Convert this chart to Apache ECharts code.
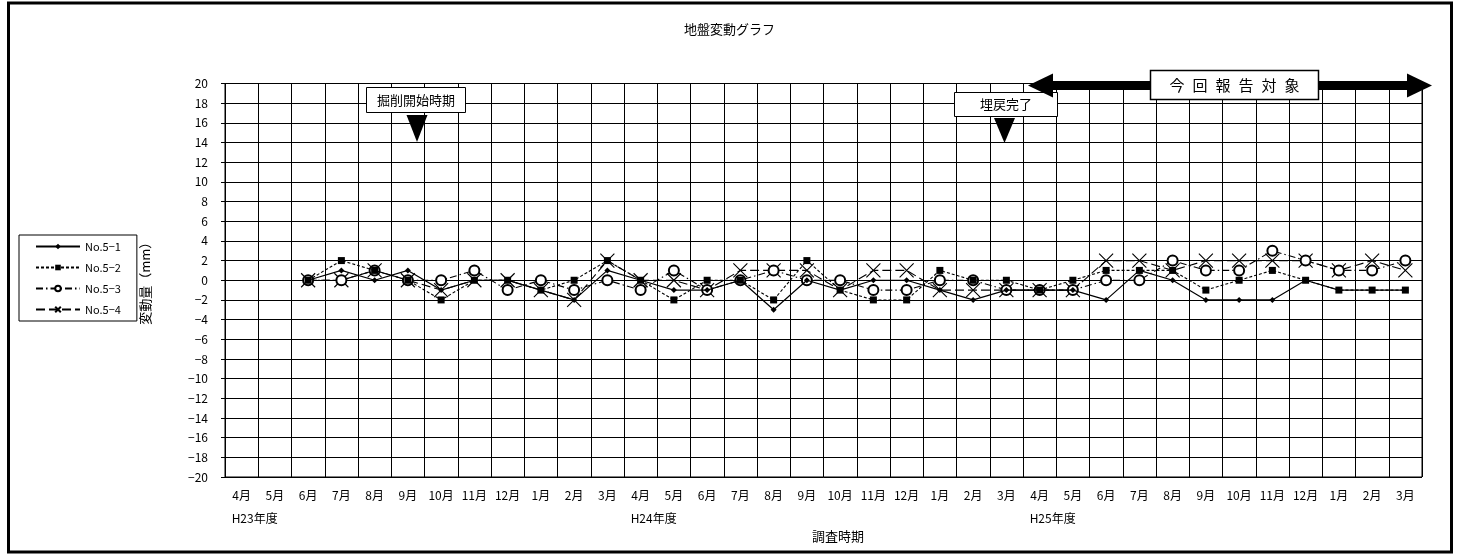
<!DOCTYPE html>
<html>
<head>
<meta charset="utf-8">
<script src="https://cdn.jsdelivr.net/npm/echarts@6/dist/echarts.min.js"></script>
<style>
html,body{margin:0;padding:0;background:#fff;}
#main{width:1459px;height:558px;}
</style>
</head>
<body>
<div id="main"></div>
<script>
var months = ['4月','5月','6月','7月','8月','9月','10月','11月','12月','1月','2月','3月',
              '4月','5月','6月','7月','8月','9月','10月','11月','12月','1月','2月','3月',
              '4月','5月','6月','7月','8月','9月','10月','11月','12月','1月','2月','3月'];
var fiscalYears = [{idx:0,label:'H23年度'},{idx:12,label:'H24年度'},{idx:24,label:'H25年度'}];
var yTicks = {min:-20, max:20, interval:2};
var seriesNames = ['No.5−1','No.5−2','No.5−3','No.5−4'];

var no51 = [null,null,0,1,0,1,-1,0,0,-1,-2,1,0,-1,-1,0,-3,0,-1,0,0,-1,-2,-1,-1,-1,-2,1,0,-2,-2,-2,0,-1,-1,-1];
var no52 = [null,null,0,2,1,0,-2,0,0,-1,0,2,0,-2,0,0,-2,2,-1,-2,-2,1,0,0,-1,0,1,1,1,-1,0,1,0,-1,-1,-1];
var no53 = [null,null,0,0,1,0,0,1,-1,0,-1,0,-1,1,-1,0,1,0,0,-1,-1,0,0,-1,-1,-1,0,0,2,1,1,3,2,1,1,2];
var no54 = [null,null,0,0,1,0,-1,0,0,-1,-2,2,0,0,-1,1,1,1,-1,1,1,-1,-1,-1,-1,-1,2,2,1,2,2,2,2,1,2,1];

var FONT = '"Noto Sans CJK JP", sans-serif';
var chart = echarts.init(document.getElementById('main'), null, {renderer:'canvas'});

var option = {
  backgroundColor:'#fff',
  animation:false,
  textStyle:{fontFamily:FONT, color:'#000'},
  title:{text:'地盤変動グラフ', left:'center', top:18,
    textStyle:{fontSize:13, fontWeight:'normal', color:'#000', fontFamily:FONT}},
  legend:{
    orient:'vertical', left:19, top:235,
    borderColor:'#000', borderWidth:1,
    padding:[5,16,5,16],
    itemWidth:44, itemHeight:7, itemGap:8,
    textStyle:{fontSize:11, color:'#000', fontFamily:FONT, lineHeight:13},
    data:seriesNames
  },
  grid:{left:225, right:37, top:83.5, bottom:81, show:true, borderColor:'#000', borderWidth:1},
  xAxis:{
    type:'category', data:months, boundaryGap:true,
    axisLine:{lineStyle:{color:'#000', width:1}},
    axisTick:{show:false},
    splitLine:{show:true, interval:0, lineStyle:{color:'#000', width:1}},
    axisLabel:{interval:0, fontSize:12, color:'#000', margin:12, fontFamily:FONT}
  },
  yAxis:{
    type:'value', min:yTicks.min, max:yTicks.max, interval:yTicks.interval,
    name:'変動量（mm）', nameLocation:'middle', nameGap:73, nameRotate:90,
    nameTextStyle:{fontSize:13, color:'#000', fontFamily:FONT},
    axisLine:{show:true, lineStyle:{color:'#000', width:1}},
    axisTick:{show:true, length:4, lineStyle:{color:'#000'}},
    splitLine:{show:true, lineStyle:{color:'#000', width:1}},
    axisLabel:{fontSize:12, color:'#000', margin:17, fontFamily:FONT,
      formatter:function(v){ return String(v).replace('-', '−'); }}
  },
  series:[
    {name:seriesNames[0], type:'line', data:no51, symbol:'diamond', symbolSize:6,
     color:'#000', lineStyle:{color:'#000', width:1.2, type:'solid'},
     itemStyle:{color:'#000'}, z:5},
    {name:seriesNames[1], type:'line', data:no52, symbol:'rect', symbolSize:7,
     color:'#000', lineStyle:{color:'#000', width:1.1, type:[3,2]},
     itemStyle:{color:'#000'}, z:4},
    {name:seriesNames[2], type:'line', data:no53, symbol:'emptyCircle', symbolSize:10,
     color:'#000', lineStyle:{color:'#000', width:1.1, type:[7,3,1.5,3]},
     itemStyle:{color:'#000', borderColor:'#000', borderWidth:1}, z:3},
    {name:seriesNames[3], type:'line', data:no54, symbol:'path://M0,0L10,10M0,10L10,0', symbolSize:14,
     color:'#000', lineStyle:{color:'#000', width:1.1, type:[9,4]},
     itemStyle:{color:'#000', borderColor:'#000', borderWidth:1.1}, z:2}
  ]
};
chart.setOption(option);

var g = [];
g.push({type:'rect', shape:{x:8.5, y:3, width:1443, height:549}, style:{fill:null, stroke:'#000', lineWidth:3}, z:100, silent:true});
fiscalYears.forEach(function(f){
  var px = chart.convertToPixel({xAxisIndex:0}, f.idx);
  g.push({type:'text', x:px-10, y:518, style:{text:f.label, font:'12px '+FONT, fill:'#000', textAlign:'left', textVerticalAlign:'middle'}, z:100});
});
g.push({type:'text', x:838, y:536, style:{text:'調査時期', font:'13px '+FONT, fill:'#000', textAlign:'center', textVerticalAlign:'middle'}, z:100});
g.push({type:'rect', shape:{x:366.5, y:87.5, width:99, height:25}, style:{fill:'#fff', stroke:'#000', lineWidth:1}, z:100});
g.push({type:'text', x:416, y:100, style:{text:'掘削開始時期', font:'13px '+FONT, fill:'#000', textAlign:'center', textVerticalAlign:'middle'}, z:101});
g.push({type:'polygon', shape:{points:[[406.5,115],[427.5,115],[417,142]]}, style:{fill:'#000'}, z:100});
g.push({type:'rect', shape:{x:954.5, y:92.5, width:103, height:24}, style:{fill:'#fff', stroke:'#000', lineWidth:1}, z:100});
g.push({type:'text', x:1006, y:104.5, style:{text:'埋戻完了', font:'13px '+FONT, fill:'#000', textAlign:'center', textVerticalAlign:'middle'}, z:101});
g.push({type:'polygon', shape:{points:[[994,118],[1015,118],[1004.5,143]]}, style:{fill:'#000'}, z:100});
g.push({type:'rect', shape:{x:1050, y:81, width:360, height:9}, style:{fill:'#000'}, z:100});
g.push({type:'polygon', shape:{points:[[1028,85.5],[1053,73.5],[1053,97.5]]}, style:{fill:'#000'}, z:100});
g.push({type:'polygon', shape:{points:[[1432,85.5],[1407,73.5],[1407,97.5]]}, style:{fill:'#000'}, z:100});
g.push({type:'rect', shape:{x:1150.5, y:70.5, width:168, height:29}, style:{fill:'#fff', stroke:'#000', lineWidth:1.5}, z:101});
var ttl = ['今','回','報','告','対','象'];
ttl.forEach(function(c,i){
  g.push({type:'text', x:1234.5 + (i-2.5)*23, y:85, style:{text:c, font:'15px '+FONT, fill:'#000', textAlign:'center', textVerticalAlign:'middle'}, z:102});
});
chart.setOption({graphic:g});
</script>
</body>
</html>
